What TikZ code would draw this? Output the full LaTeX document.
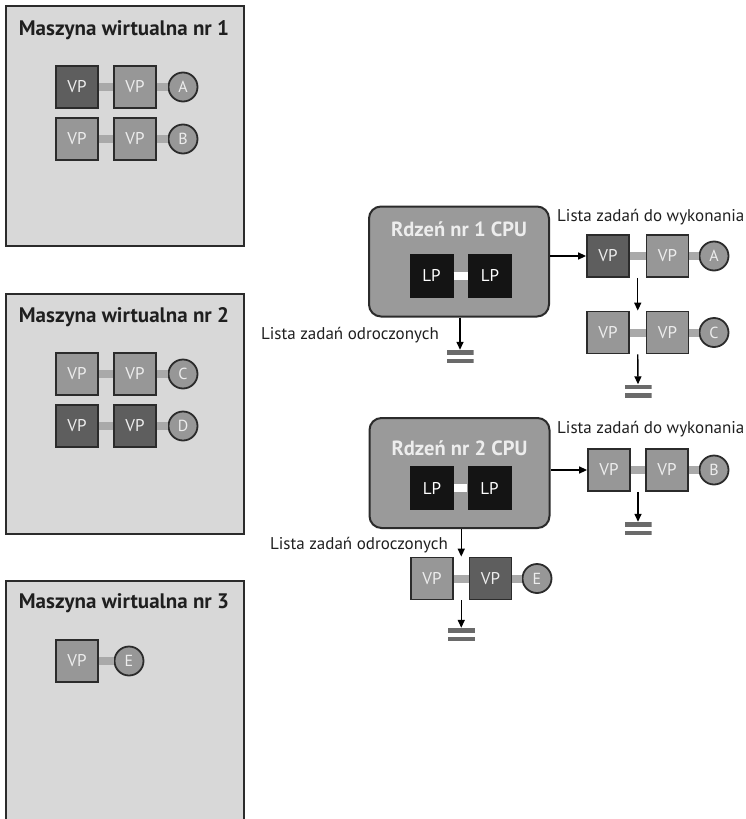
\documentclass[tikz,border=0pt]{standalone}
\usepackage{fontspec}
\setmainfont{PT Sans}
\usetikzlibrary{calc,arrows.meta}
\definecolor{vmbg}{HTML}{D8D8D8}
\definecolor{edge}{HTML}{2B2B2B}
\definecolor{vpdark}{HTML}{5E5E5E}
\definecolor{vplight}{HTML}{979797}
\definecolor{linkgray}{HTML}{A9A9A9}
\definecolor{cpubg}{HTML}{9A9A9A}
\definecolor{bargray}{HTML}{6A6A6A}
\definecolor{softwhite}{HTML}{EDEDED}
\begin{document}
\begin{tikzpicture}[x=1pt,y=-1pt,
  vmbox/.style={draw=edge,line width=2pt,fill=vmbg,anchor=north west,inner sep=0pt},
  vmtitle/.style={font=\fontsize{21}{23}\selectfont\bfseries,text=black!88},
  vp/.style={draw=edge,line width=1.8pt,minimum size=42pt,inner sep=0pt,text=softwhite,font=\fontsize{17}{19}\selectfont},
  vpd/.style={vp,fill=vpdark},
  vpl/.style={vp,fill=vplight},
  task/.style={circle,draw=edge,line width=1.8pt,fill=vplight,minimum size=29pt,inner sep=0pt,text=softwhite,font=\fontsize{16}{18}\selectfont},
  link/.style={linkgray,line width=8pt},
  cpu/.style={draw=edge,line width=2pt,fill=cpubg,rounded corners=12pt,minimum width=180pt,minimum height=110pt,inner sep=0pt},
  cputitle/.style={font=\fontsize{20.5}{22}\selectfont\bfseries,text=softwhite},
  lp/.style={fill=black!92,minimum size=44pt,inner sep=0pt,text=white,font=\fontsize{17}{19}\selectfont},
  lbl/.style={font=\fontsize{17}{19}\selectfont,text=black!88,inner sep=0pt},
  arr/.style={-{Triangle[length=8pt,width=7pt]},line width=1.4pt,black},
  endbar/.style={minimum width=27pt,minimum height=13pt,inner sep=0pt,path picture={
    \fill[bargray] (path picture bounding box.north west) rectangle ([yshift=-4.5pt]path picture bounding box.north east);
    \fill[bargray] (path picture bounding box.south west) rectangle ([yshift=4.5pt]path picture bounding box.south east);}}
]
\useasboundingbox (0,0) rectangle (745,819);

% ---- virtual machine 1 ----
\node[vmbox,minimum width=238pt,minimum height=240pt] (vm1) at (5,5) {};
\node[vmtitle] (vm1t) at (124,30) {Maszyna wirtualna nr 1};
\node[vpd] (m1a) at (77,87) {VP};
\node[vpl] (m1b) at (135,87) {VP};
\node[task] (tA) at (183,87) {A};
\node[vpl] (m1c) at (77,139) {VP};
\node[vpl] (m1d) at (135,139) {VP};
\node[task] (tB) at (183,139) {B};
\draw[link] (m1a) -- (m1b); \draw[link] (m1b) -- (tA);
\draw[link] (m1c) -- (m1d); \draw[link] (m1d) -- (tB);

% ---- virtual machine 2 ----
\node[vmbox,minimum width=238pt,minimum height=240pt] (vm2) at (5,293) {};
\node[vmtitle] (vm2t) at (124,317) {Maszyna wirtualna nr 2};
\node[vpl] (m2a) at (77,374) {VP};
\node[vpl] (m2b) at (135,374) {VP};
\node[task] (tC) at (183,374) {C};
\node[vpd] (m2c) at (77,426) {VP};
\node[vpd] (m2d) at (135,426) {VP};
\node[task] (tD) at (183,426) {D};
\draw[link] (m2a) -- (m2b); \draw[link] (m2b) -- (tC);
\draw[link] (m2c) -- (m2d); \draw[link] (m2d) -- (tD);

% ---- virtual machine 3 ----
\node[vmbox,minimum width=238pt,minimum height=250pt] (vm3) at (5,580) {};
\node[vmtitle] (vm3t) at (124,603) {Maszyna wirtualna nr 3};
\node[vpl] (m3a) at (77,661) {VP};
\node[task] (tE) at (129,661) {E};
\draw[link] (m3a) -- (tE);

% ---- CPU core 1 ----
\node[cpu] (cpu1) at (459,261.5) {};
\node[cputitle] (cpu1t) at (459,229) {Rdzeń nr 1 CPU};
\node[lp] (lp1a) at (431.5,275.5) {LP};
\node[lp] (lp1b) at (490,275.5) {LP};
\draw[white,line width=8pt] (lp1a) -- (lp1b);

% run list of core 1
\node[lbl,anchor=west] (run1) at (557,217) {Lista zadań do wykonania};
\node[vpd] (r1a) at (608,256) {VP};
\node[vpl] (r1b) at (667.5,256) {VP};
\node[task] (rA) at (714,256) {A};
\node[vpl] (r1c) at (608,332.5) {VP};
\node[vpl] (r1d) at (667.5,332.5) {VP};
\node[task] (rC) at (714,332.5) {C};
\draw[link] (r1a) -- (r1b); \draw[link] (r1b) -- (rA);
\draw[link] (r1c) -- (r1d); \draw[link] (r1d) -- (rC);
\node[endbar] (s1) at (638,391) {};
\coordinate (g1) at ($(r1a.east)!0.5!(r1b.west)$);
\coordinate (g2) at ($(r1c.east)!0.5!(r1d.west)$);
\draw[arr] (cpu1.east |- r1a) -- (r1a.west);
\draw[arr] (g1 |- r1a.south) -- (g1 |- r1c.north);
\draw[arr] (g2 |- r1c.south) -- (s1.north);

% deferred list of core 1
\node[lbl,anchor=east] (def1) at (439,335) {Lista zadań odroczonych};
\node[endbar] (s2) at (460,356.5) {};
\draw[arr] (cpu1.south -| s2) -- (s2.north);

% ---- CPU core 2 ----
\node[cpu] (cpu2) at (459.5,473) {};
\node[cputitle] (cpu2t) at (459.5,448) {Rdzeń nr 2 CPU};
\node[lp] (lp2a) at (432,488) {LP};
\node[lp] (lp2b) at (489.5,488) {LP};
\draw[white,line width=8pt] (lp2a) -- (lp2b);

% run list of core 2
\node[lbl,anchor=west] (run2) at (557,429) {Lista zadań do wykonania};
\node[vpl] (r2a) at (609,470) {VP};
\node[vpl] (r2b) at (667,470) {VP};
\node[task] (rB) at (714,470) {B};
\draw[link] (r2a) -- (r2b); \draw[link] (r2b) -- (rB);
\node[endbar] (s3) at (638,528.5) {};
\coordinate (g3) at ($(r2a.east)!0.5!(r2b.west)$);
\draw[arr] (cpu2.east |- r2a) -- (r2a.west);
\draw[arr] (g3 |- r2a.south) -- (s3.north);

% deferred list of core 2
\node[lbl,anchor=east] (def2) at (448,545) {Lista zadań odroczonych};
\node[vpl] (d2a) at (432,578.5) {VP};
\node[vpd] (d2b) at (490.5,578.5) {VP};
\node[task] (dE) at (537,578.5) {E};
\draw[link] (d2a) -- (d2b); \draw[link] (d2b) -- (dE);
\coordinate (g4) at ($(d2a.east)!0.5!(d2b.west)$);
\node[endbar] (s4) at (g4 |- 0,634.5) {};
\draw[arr] (cpu2.south -| g4) -- (g4 |- d2a.north);
\draw[arr] (g4 |- d2a.south) -- (s4.north);
\end{tikzpicture}
\end{document}
